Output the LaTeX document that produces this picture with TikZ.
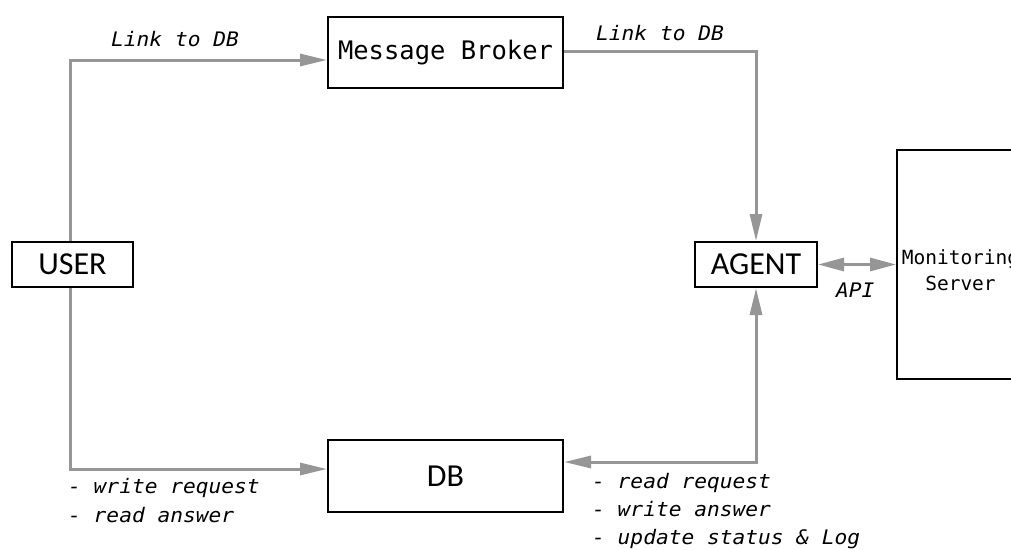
\documentclass[tikz,border=0pt]{standalone}
\usepackage{fontspec}
\newfontfamily\monoT{DejaVu Sans Mono}
\newfontfamily\monoL[FakeStretch=1.06]{DejaVu Sans Mono}
\newfontfamily\sansC{Carlito}
\usetikzlibrary{arrows.meta}
\definecolor{conngray}{RGB}{150,150,150}
\begin{document}
\begin{tikzpicture}[x=1pt,y=-1pt,
  box/.style={draw=black, line width=2pt, inner sep=0pt},
  tip/.tip={Triangle[length=27pt,width=12pt]},
  apitip/.tip={Triangle[length=26pt,width=13pt]},
  conn/.style={draw=conngray, line width=3pt, -tip},
  lbl/.style={inner sep=0pt, anchor=base west, font=\monoL\itshape\fontsize{20}{28}\selectfont, align=left}]
\useasboundingbox (0,0) rectangle (1011,549);
\clip (0,0) rectangle (1011,549);
\fill[white] (0,0) rectangle (1011,549);

\node[box, minimum width=235pt, minimum height=71pt, font=\monoT\fontsize{25.5}{28}\selectfont] (MB) at (445.5,52.5) {Message Broker};
\node[box, minimum width=121pt, minimum height=45pt, font=\sansC\fontsize{32}{36}\selectfont] (USER) at (72.5,264.5) {USER};
\node[box, minimum width=122pt, minimum height=45pt, font=\sansC\fontsize{32}{36}\selectfont] (AGENT) at (756,264.5) {AGENT};
\node[box, minimum width=235pt, minimum height=72pt, font=\sansC\fontsize{32}{36}\selectfont] (DB) at (445.5,476) {DB};
\node[box, minimum width=127pt, minimum height=229pt,
  label={[yshift=-6pt, align=center, inner sep=0pt, font=\monoT\fontsize{19.5}{26}\selectfont]center:Monitoring\\Server}] (MON) at (960.5,264.5) {};

\draw[conn] ([xshift=-2.5pt]USER.north) |- ([yshift=-7.5pt]MB.west);
\draw[conn] ([yshift=1.5pt]MB.east) -| (AGENT.north);
\draw[conn] ([xshift=-2.5pt]USER.south) |- ([yshift=7pt]DB.west);
\draw[conn, tip-tip] ([yshift=14pt]DB.east) -| (AGENT.south);
\draw[conn, apitip-apitip] (AGENT.east) -- (MON.west);

\node[lbl] (l1) at (111,46) {Link to DB};
\node[lbl] (l2) at (596,40) {Link to DB};
\node[lbl] (l3) at (836,297) {API};
\node[lbl, font=\monoL\itshape\fontsize{20}{29}\selectfont] (l4) at (68,522) {- write request\\- read answer};
\node[lbl, font=\monoL\itshape\fontsize{20}{28}\selectfont] (l5) at (592,544) {- read request\\- write answer\\- update status \& Log};
\end{tikzpicture}
\end{document}
